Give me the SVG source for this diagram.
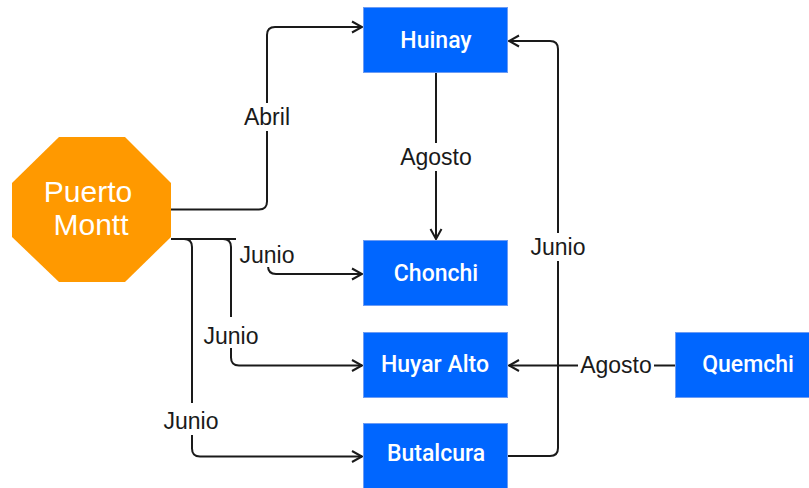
<svg xmlns="http://www.w3.org/2000/svg" width="809" height="488" viewBox="0 0 809 488">
  <defs>
    <style>
      .box { fill: #0066ff; stroke: #6d9cf3; stroke-width: 1; }
      .hub { fill: #ff9900; stroke: none; }
      .node-label { font-family: Roboto, "Liberation Sans", Arial, sans-serif; font-weight: 500; font-size: 23px; fill: #ffffff; text-anchor: middle; }
      .hub-label { font-family: "Liberation Sans", Arial, sans-serif; font-size: 30px; fill: #ffffff; text-anchor: middle; }
      .edge { fill: none; stroke: #1a1a1a; stroke-width: 2; marker-end: url(#arrow); }
      .edge-bg { fill: #ffffff; stroke: none; }
      .edge-label { font-family: "Liberation Sans", Arial, sans-serif; font-size: 23px; fill: #1a1a1a; text-anchor: middle; }
    </style>
    <marker id="arrow" markerUnits="userSpaceOnUse" viewBox="-12 -7 14 14" refX="0" refY="0" markerWidth="14" markerHeight="14" orient="auto">
      <path d="M-10,-5.5 L0,0 L-10,5.5" fill="none" stroke="#1a1a1a" stroke-width="2" stroke-linejoin="miter"/>
    </marker>
  </defs>

  <rect width="809" height="488" fill="#ffffff"/>

  <!-- connectors -->
  <g id="connectors">
    <path class="edge" d="M171,209.5 H259 Q267,209.5 267,201.5 V35 Q267,27 275,27 H362"/>
    <path class="edge" d="M171,239 H260 Q268,239 268,247 V266 Q268,274 276,274 H362"/>
    <path class="edge" d="M171,239 H223 Q231,239 231,247 V357.5 Q231,365.5 239,365.5 H362"/>
    <path class="edge" d="M171,239 H184 Q192,239 192,247 V448.5 Q192,456.5 200,456.5 H362"/>
    <path class="edge" d="M436,73 V239"/>
    <path class="edge" d="M508,456 H550 Q558,456 558,448 V49 Q558,41 550,41 H509"/>
    <path class="edge" d="M675,365.5 H509"/>

    <!-- edge labels -->
    <rect class="edge-bg" x="241" y="103" width="52" height="28"/>
    <text class="edge-label" x="267" y="125">Abril</text>

    <rect class="edge-bg" x="397" y="143" width="78" height="28"/>
    <text class="edge-label" x="436" y="165">Agosto</text>

    <rect class="edge-bg" x="236" y="236" width="64" height="31"/>
    <text class="edge-label" x="267" y="263">Junio</text>

    <rect class="edge-bg" x="203" y="317" width="57" height="31"/>
    <text class="edge-label" x="231" y="344">Junio</text>

    <rect class="edge-bg" x="164" y="403" width="57" height="32"/>
    <text class="edge-label" x="191" y="429">Junio</text>

    <rect class="edge-bg" x="529" y="233" width="58" height="28"/>
    <text class="edge-label" x="558" y="255">Junio</text>

    <rect class="edge-bg" x="578" y="351" width="76" height="28"/>
    <text class="edge-label" x="616" y="373">Agosto</text>
  </g>

  <!-- hub -->
  <g id="puerto-montt">
    <polygon class="hub" points="59,137 125,137 171,183 171,237 125,282 59,282 12,237 12,183"/>
    <text class="hub-label" x="88" y="202">Puerto</text>
    <text class="hub-label" x="91" y="235">Montt</text>
  </g>

  <g id="huinay">
    <rect class="box" x="363.5" y="7.5" width="144" height="65"/>
    <text class="node-label" x="436" y="48">Huinay</text>
  </g>

  <g id="chonchi">
    <rect class="box" x="363.5" y="240.5" width="144" height="65"/>
    <text class="node-label" x="436" y="281">Chonchi</text>
  </g>

  <g id="huyar-alto">
    <rect class="box" x="363.5" y="332.5" width="144" height="65"/>
    <text class="node-label" x="435" y="372">Huyar Alto</text>
  </g>

  <g id="butalcura">
    <rect class="box" x="363.5" y="423.5" width="144" height="66"/>
    <text class="node-label" x="436" y="461">Butalcura</text>
  </g>

  <g id="quemchi">
    <rect class="box" x="675.5" y="332.5" width="140" height="65"/>
    <text class="node-label" x="748" y="372">Quemchi</text>
  </g>
</svg>
